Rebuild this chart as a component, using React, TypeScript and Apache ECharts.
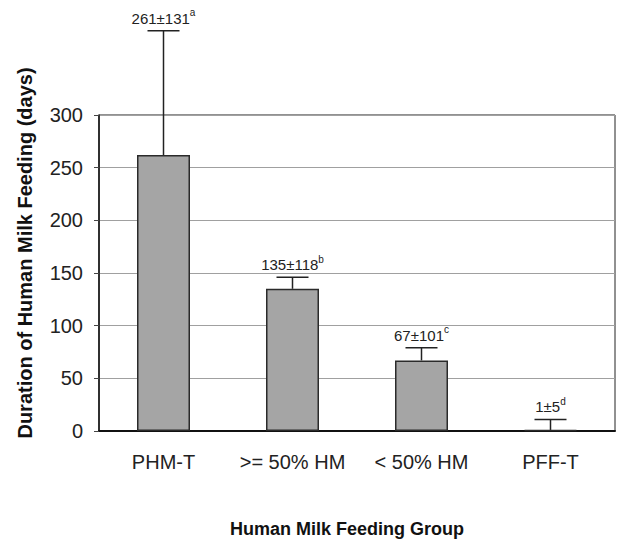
import React, { useEffect, useRef } from "react";
import * as echarts from "echarts";

const categories = ["PHM-T", ">= 50% HM", "< 50% HM", "PFF-T"];
const means = [262, 135, 67, 1];
const meanLabels = [261, 135, 67, 1];
const sds = [131, 118, 101, 5];
const letters = ["a", "b", "c", "d"];
// error-bar length as drawn in the figure
const errorUp = [118, 11, 12, 10];
const yMin = 0;
const yMax = 300;
const yInterval = 50;

const FONT = "'Liberation Sans', Arial, sans-serif";

export default function App() {
  const ref = useRef<HTMLDivElement>(null);
  useEffect(() => {
    if (!ref.current) return;
    const chart = echarts.init(ref.current, undefined, { renderer: "svg" });
    const errData = means.map((m, i) => [i, m + errorUp[i], m]);
    chart.setOption({
      animation: false,
      backgroundColor: "#ffffff",
      grid: {
        left: 99,
        right: 3,
        top: 115,
        bottom: 111,
        show: true,
        borderColor: "#222",
        borderWidth: 1,
        backgroundColor: "transparent",
      },
      xAxis: {
        type: "category",
        data: categories,
        axisLine: { show: true, lineStyle: { color: "#111", width: 2 } },
        axisTick: { show: false },
        axisLabel: { color: "#222", fontSize: 20, fontFamily: FONT, margin: 21, interval: 0 },
        splitLine: { show: false },
      },
      yAxis: {
        type: "value",
        min: yMin,
        max: yMax,
        interval: yInterval,
        axisLine: { show: true, lineStyle: { color: "#111", width: 1.5 } },
        axisTick: { show: true, length: 5, lineStyle: { color: "#444" } },
        axisLabel: { color: "#222", fontSize: 20, fontFamily: FONT, margin: 16 },
        splitLine: { show: true, lineStyle: { color: "#a0a0a0", width: 1 } },
      },
      graphic: [
        {
          type: "text",
          x: 25,
          y: 253,
          rotation: Math.PI / 2,
          style: {
            text: "Duration of Human Milk Feeding (days)",
            font: `bold 20px ${FONT}`,
            fill: "#111",
            textAlign: "center",
            textVerticalAlign: "middle",
          },
        },
        {
          type: "text",
          x: 347,
          y: 529,
          style: {
            text: "Human Milk Feeding Group",
            font: `bold 18px ${FONT}`,
            fill: "#111",
            textAlign: "center",
            textVerticalAlign: "middle",
          },
        },
      ],
      series: [
        {
          type: "bar",
          data: means,
          barWidth: 53,
          itemStyle: { color: "#a5a5a5", borderColor: "#2a2a2a", borderWidth: 1.5 },
          z: 2,
        },
        {
          type: "custom",
          data: errData,
          encode: { x: 0, y: 1 },
          clip: false,
          z: 3,
          renderItem: (params: any, api: any) => {
            const i = api.value(0);
            const base = api.coord([i, api.value(2)]);
            const cap = api.coord([i, api.value(1)]);
            const half = 16;
            return {
              type: "group",
              children: [
                {
                  type: "line",
                  shape: { x1: base[0], y1: base[1], x2: cap[0], y2: cap[1] },
                  style: { stroke: "#222", lineWidth: 1.5 },
                },
                {
                  type: "line",
                  shape: { x1: cap[0] - half, y1: cap[1], x2: cap[0] + half, y2: cap[1] },
                  style: { stroke: "#222", lineWidth: 1.5 },
                },
                {
                  type: "text",
                  x: cap[0],
                  y: cap[1] - 5,
                  style: {
                    text: `{m|${meanLabels[i]}±${sds[i]}}{s|${letters[i]}}`,
                    rich: {
                      m: { fontSize: 15, fontFamily: FONT, fill: "#222", lineHeight: 18, verticalAlign: "bottom" },
                      s: { fontSize: 10, fontFamily: FONT, fill: "#222", lineHeight: 18, verticalAlign: "top" },
                    },
                    textAlign: "center",
                    textVerticalAlign: "bottom",
                  },
                },
              ],
            };
          },
        },
      ],
    });
    return () => chart.dispose();
  }, []);
  return <div ref={ref} style={{ width: 618, height: 542, position: "absolute", left: 0, top: 0 }} />;
}
